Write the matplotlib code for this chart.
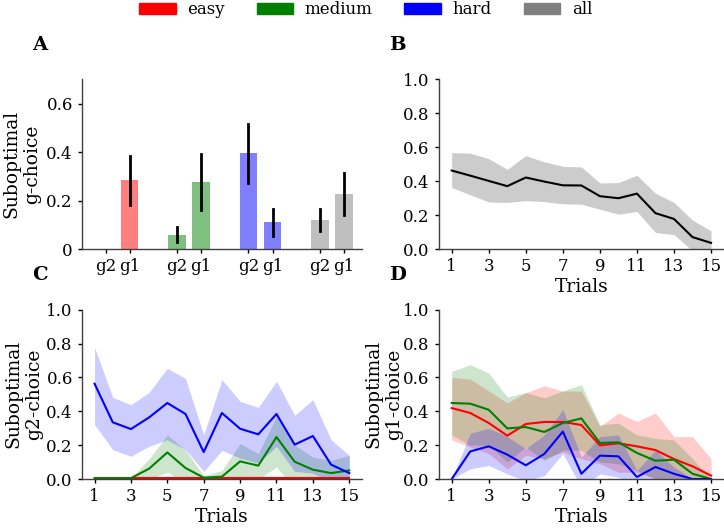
import numpy as np
import matplotlib
matplotlib.use("Agg")
import matplotlib.pyplot as plt
from matplotlib.patches import Patch

plt.rcParams['font.family'] = ['DejaVu Serif']
plt.rcParams['font.size'] = 12
plt.rcParams['axes.labelsize'] = 13.5
plt.rcParams['axes.edgecolor'] = '0.25'
plt.rcParams['axes.linewidth'] = 1.0
plt.rcParams['xtick.major.size'] = 3
plt.rcParams['ytick.major.size'] = 3
plt.rcParams['xtick.major.width'] = 1.0
plt.rcParams['ytick.major.width'] = 1.0

# panel A: bars (g2, g1) per difficulty
groups = ["easy", "medium", "hard", "all"]
colors = ["red", "green", "blue", "gray"]
bar_g2 = [0.0, 0.059, 0.396, 0.121]
bar_g1 = [0.285, 0.277, 0.112, 0.227]
err_g2_lo = [0.0, 0.029, 0.274, 0.074]
err_g2_hi = [0.0, 0.093, 0.514, 0.164]
err_g1_lo = [0.182, 0.162, 0.056, 0.140]
err_g1_hi = [0.384, 0.392, 0.167, 0.312]

trials = np.arange(1, 16)

# panel B: all
all_mean = [0.463, 0.433, 0.402, 0.371, 0.422, 0.398, 0.376, 0.375, 0.312, 0.300,
            0.327, 0.212, 0.178, 0.071, 0.037]
all_hi = [0.569, 0.565, 0.533, 0.470, 0.551, 0.514, 0.488, 0.484, 0.390, 0.392,
          0.435, 0.329, 0.275, 0.171, 0.108]
all_lo = [0.363, 0.320, 0.278, 0.275, 0.286, 0.280, 0.267, 0.265, 0.235, 0.206,
          0.222, 0.098, 0.086, -0.01, -0.02]

# panel C: g2-choice
g2_easy = [0.005] * 15
g2_easy_hi = [0.005] * 15
g2_easy_lo = [0.005] * 15
g2_med = [0.005, 0.005, 0.005, 0.061, 0.157, 0.065, 0.008, 0.014, 0.104, 0.079,
          0.248, 0.102, 0.055, 0.035, 0.051]
g2_med_hi = [0.005, 0.005, 0.005, 0.12, 0.26, 0.17, 0.02, 0.05, 0.21, 0.15,
             0.37, 0.20, 0.13, 0.11, 0.14]
g2_med_lo = [0.005, 0.005, 0.005, 0.0, 0.04, -0.02, 0.0, -0.02, 0.0, 0.0,
             0.07, -0.05, -0.02, -0.04, -0.04]
g2_hard = [0.563, 0.335, 0.295, 0.364, 0.449, 0.384, 0.159, 0.390, 0.297, 0.264,
           0.384, 0.203, 0.254, 0.085, 0.035]
g2_hard_hi = [0.778, 0.482, 0.439, 0.512, 0.654, 0.594, 0.260, 0.587, 0.459, 0.423,
              0.577, 0.376, 0.469, 0.232, 0.140]
g2_hard_lo = [0.321, 0.173, 0.134, 0.193, 0.232, 0.173, 0.045, 0.169, 0.124, 0.094,
              0.193, 0.045, 0.035, -0.02, -0.03]

# panel D: g1-choice
g1_easy = [0.419, 0.390, 0.331, 0.256, 0.325, 0.337, 0.337, 0.319, 0.199, 0.211,
           0.193, 0.171, 0.118, 0.075, 0.020]
g1_easy_hi = [0.60, 0.59, 0.52, 0.45, 0.51, 0.55, 0.52, 0.52, 0.31, 0.39,
              0.34, 0.39, 0.25, 0.25, 0.12]
g1_easy_lo = [0.23, 0.19, 0.15, 0.06, 0.14, 0.12, 0.16, 0.12, 0.09, 0.04,
              0.04, 0.0, 0.0, -0.10, -0.08]
g1_med = [0.449, 0.445, 0.409, 0.299, 0.307, 0.278, 0.331, 0.358, 0.213, 0.217,
          0.154, 0.108, 0.114, 0.031, 0.0]
g1_med_hi = [0.636, 0.675, 0.626, 0.484, 0.51, 0.48, 0.52, 0.557, 0.32, 0.33,
             0.26, 0.24, 0.23, 0.12, 0.0]
g1_med_lo = [0.26, 0.20, 0.20, 0.10, 0.19, 0.11, 0.17, 0.17, 0.10, 0.09,
             0.05, 0.0, 0.0, -0.05, 0.0]
g1_hard = [0.0, 0.163, 0.193, 0.144, 0.081, 0.148, 0.280, 0.031, 0.138, 0.134,
           0.012, 0.071, 0.031, 0.0, 0.0]
g1_hard_hi = [0.0, 0.27, 0.30, 0.25, 0.18, 0.26, 0.41, 0.13, 0.25, 0.26,
              0.05, 0.17, 0.07, 0.0, 0.0]
g1_hard_lo = [0.0, 0.06, 0.08, 0.03, -0.01, 0.02, 0.15, -0.05, 0.03, 0.01,
              -0.03, -0.03, -0.01, 0.0, 0.0]


def clean(ax):
    ax.spines['top'].set_visible(False)
    ax.spines['right'].set_visible(False)


def trial_axis(ax):
    ax.set_xlim(0.3, 15.7)
    ax.set_ylim(0, 1.0)
    ax.set_xticks(range(1, 16, 2))
    ax.set_yticks([0, 0.2, 0.4, 0.6, 0.8, 1.0])
    ax.set_xlabel("Trials", labelpad=2)
    clean(ax)


fig = plt.figure(figsize=(7.24, 5.29), dpi=100)
axA = fig.add_axes([0.113, 0.529, 0.387, 0.321])
axB = fig.add_axes([0.606, 0.529, 0.394, 0.321])
axC = fig.add_axes([0.113, 0.0945, 0.387, 0.32])
axD = fig.add_axes([0.606, 0.0945, 0.394, 0.32])

# A
off = 0.168
w = 0.25
pos = np.arange(len(groups))
for i in range(len(groups)):
    axA.bar(pos[i] - off, bar_g2[i], w, color=colors[i], alpha=0.5)
    axA.bar(pos[i] + off, bar_g1[i], w, color=colors[i], alpha=0.5)
    if bar_g2[i] > 0:
        axA.plot([pos[i] - off] * 2, [err_g2_lo[i], err_g2_hi[i]], color='k', lw=2)
    axA.plot([pos[i] + off] * 2, [err_g1_lo[i], err_g1_hi[i]], color='k', lw=2)
ticks = []
labels = []
for p in pos:
    ticks += [p - off, p + off]
    labels += ["g2", "g1"]
axA.set_xticks(ticks)
axA.set_xticklabels(labels)
axA.set_xlim(-0.5, 3.42)
axA.set_ylim(0, 0.7)
axA.set_yticks([0, 0.2, 0.4, 0.6])
axA.set_yticklabels(["0", "0.2", "0.4", "0.6"])
axA.set_ylabel("Suboptimal\ng-choice")
clean(axA)

# B
axB.fill_between(trials, all_lo, all_hi, color='gray', alpha=0.4, lw=0)
axB.plot(trials, all_mean, color='k', lw=1.5)
trial_axis(axB)

# C
axC.fill_between(trials, g2_easy_lo, g2_easy_hi, color='red', alpha=0.2, lw=0)
axC.fill_between(trials, g2_med_lo, g2_med_hi, color='green', alpha=0.2, lw=0)
axC.fill_between(trials, g2_hard_lo, g2_hard_hi, color='blue', alpha=0.2, lw=0)
axC.plot(trials, g2_easy, color='red', lw=1.5)
axC.plot(trials, g2_med, color='green', lw=1.5)
axC.plot(trials, g2_hard, color='blue', lw=1.5)
trial_axis(axC)
axC.set_ylabel("Suboptimal\ng2-choice", labelpad=2)

# D
axD.fill_between(trials, g1_easy_lo, g1_easy_hi, color='red', alpha=0.2, lw=0)
axD.fill_between(trials, g1_med_lo, g1_med_hi, color='green', alpha=0.2, lw=0)
axD.fill_between(trials, g1_hard_lo, g1_hard_hi, color='blue', alpha=0.2, lw=0)
axD.plot(trials, g1_easy, color='red', lw=1.5)
axD.plot(trials, g1_med, color='green', lw=1.5)
axD.plot(trials, g1_hard, color='blue', lw=1.5)
trial_axis(axD)
axD.set_ylabel("Suboptimal\ng1-choice", labelpad=0)

# panel letters
for x, y, s in [(0.045, 0.915, "A"), (0.537, 0.915, "B"),
                (0.045, 0.48, "C"), (0.537, 0.48, "D")]:
    fig.text(x, y, s, fontsize=14, fontweight='bold', va='center')

handles = [Patch(color=c, label=g) for c, g in zip(colors, groups)]
fig.legend(handles=handles, loc='upper center', ncol=4, frameon=False,
           bbox_to_anchor=(0.505, 1.026), handlelength=2.2, handletextpad=0.7,
           columnspacing=1.9)

fig.savefig("out.png", dpi=100)
